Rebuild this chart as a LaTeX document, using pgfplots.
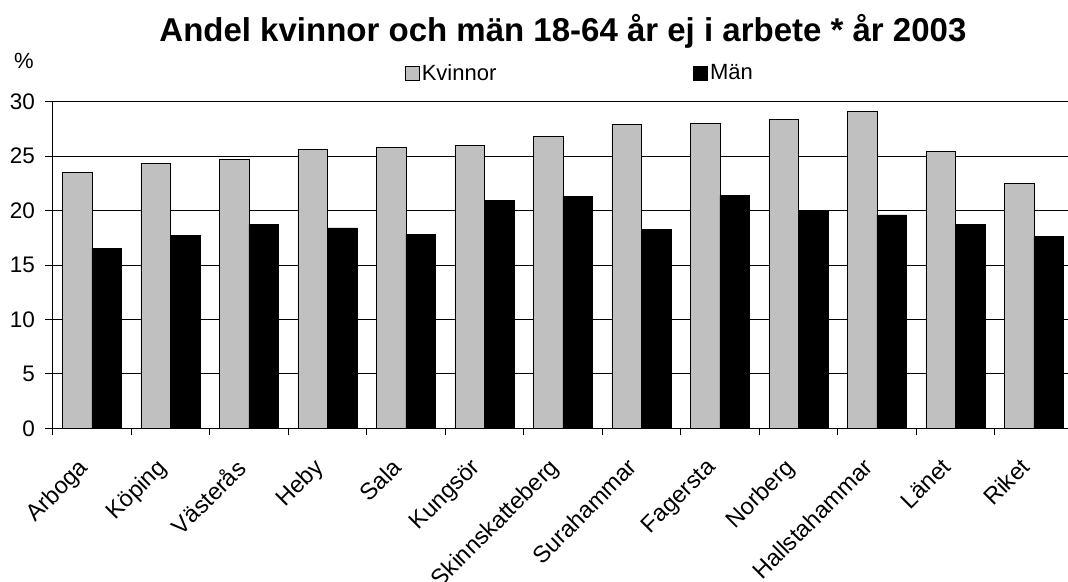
\documentclass[border=0pt]{standalone}
\usepackage{pgfplots}
\pgfplotsset{compat=1.18}
\usepackage{fontspec}
\setmainfont{Liberation Sans}
\definecolor{kv}{RGB}{192,192,192}
\pgfplotsset{sqlegend/.style={legend image code/.code={\draw[##1, line width=0.8pt] (0pt,-7pt) rectangle (14pt,7pt);}}}
\begin{document}
\begin{tikzpicture}
\begin{axis}[
  name=ax,
  at={(0,0)}, anchor=south west,
  scale only axis,
  width=1020.5pt, height=326.6pt,
  xmin=-0.5, xmax=12.5,
  ymin=0, ymax=30,
  ytick={0,5,...,30},
  ymajorgrids,
  grid style={black, line width=0.8pt},
  axis x line*=bottom, axis y line*=left,
  axis line style={line width=0.8pt, -},
  tick align=outside,
  major tick length=7.5pt, minor tick length=7pt,
  tick style={black, line width=0.8pt},
  xtick={0,...,12},
  major x tick style={draw=none},
  minor xtick={-0.5,0.5,...,12.5},
  xticklabels={Arboga,Köping,Västerås,Heby,Sala,Kungsör,Skinnskatteberg,Surahammar,Fagersta,Norberg,Hallstahammar,Länet,Riket},
  xticklabel style={font=\fontsize{23.5}{23.5}\selectfont, inner sep=0pt, xshift=-15pt, yshift=-21pt, rotate=45, anchor=north east},
  yticklabel style={font=\fontsize{22.5}{22.5}\selectfont, inner sep=0pt, xshift=-10pt},
  /pgf/number format/assume math mode=true,
  title={Andel kvinnor och män 18-64 år ej i arbete * år 2003},
  title style={font=\bfseries\fontsize{33}{33}\selectfont, at={(0.5,1.143)}, anchor=south, inner sep=0pt, yshift=0pt},
  legend columns=2,
  legend style={at={(0.345,1.088)}, anchor=west, draw=none, fill=none, inner sep=0pt,
    font=\fontsize{22}{22}\selectfont,
    nodes={inner sep=2pt},
    /tikz/every even column/.append style={column sep=195pt}},
  clip=true,
]
\addplot[ybar, bar width=0.376, bar shift=-0.188, fill=kv, draw=black, line width=0.8pt, sqlegend]
  coordinates {(0,23.5) (1,24.3) (2,24.7) (3,25.6) (4,25.8) (5,26.0) (6,26.8) (7,27.9) (8,28.0) (9,28.4) (10,29.1) (11,25.4) (12,22.5)};
\addlegendentry{Kvinnor}
\addplot[ybar, bar width=0.376, bar shift=0.188, fill=black, draw=black, line width=0.8pt, sqlegend]
  coordinates {(0,16.5) (1,17.7) (2,18.7) (3,18.4) (4,17.8) (5,20.9) (6,21.3) (7,18.3) (8,21.4) (9,20.0) (10,19.6) (11,18.7) (12,17.6)};
\addlegendentry{Män}
\end{axis}
\node[anchor=base, font=\fontsize{22}{22}\selectfont, inner sep=0pt] at ([xshift=-28.7pt, yshift=360pt]ax.south west) {\%};
\pgfresetboundingbox
\path[use as bounding box] ([xshift=-52.7pt, yshift=-152.7pt]ax.south west) rectangle ++(1068pt,581pt);
\end{tikzpicture}
\end{document}
